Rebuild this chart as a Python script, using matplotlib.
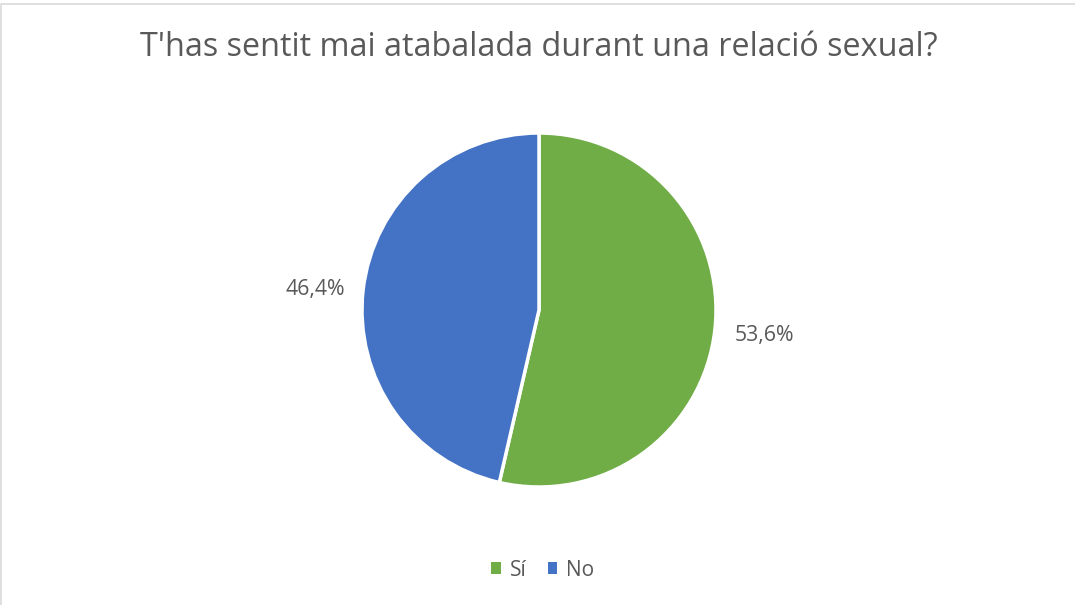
import matplotlib.pyplot as plt
from matplotlib.lines import Line2D

plt.rcParams['font.family'] = ['Open Sans', 'DejaVu Sans']

titol = "T'has sentit mai atabalada durant una relació sexual?"
categories = ['Sí', 'No']
valors = [53.6, 46.4]
colors = ['#70AD47', '#4472C4']
gris = '#595959'

W, H = 1075, 605
fig = plt.figure(figsize=(W / 100, H / 100), dpi=100)

# marc del gràfic (només es veuen la vora de dalt i l'esquerra)
fig.lines.append(Line2D([1 / W, 1 / W, 1], [0, 1 - 4 / H, 1 - 4 / H],
                        transform=fig.transFigure, color='#D9D9D9', linewidth=1.2))

fig.text(539 / W, 1 - 48 / H, titol, ha='center', va='center', fontsize=23.3, color=gris)

# pastís: centre (539, 310), radi 177 px
r = 177
ax = fig.add_axes([(539 - r) / W, 1 - (310 + r) / H, 2 * r / W, 2 * r / H])
wedges, _ = ax.pie(valors, colors=colors, startangle=90, counterclock=False,
                   wedgeprops=dict(edgecolor='white', linewidth=2.5))
ax.set_xlim(-1, 1)
ax.set_ylim(-1, 1)
ax.set_aspect('equal')

etiquetes = [f'{v:.1f}%'.replace('.', ',') for v in valors]
fig.text(764 / W, 1 - 336 / H, etiquetes[0], ha='center', va='center', fontsize=15.3, color=gris)
fig.text(315 / W, 1 - 290 / H, etiquetes[1], ha='center', va='center', fontsize=15.3, color=gris)

leg = fig.legend(wedges, categories, loc='center', bbox_to_anchor=(543 / W, 1 - 570 / H),
                 ncol=2, frameon=False, fontsize=15, handlelength=0.45, handleheight=0.45,
                 handletextpad=0.45, columnspacing=1.0, labelcolor=gris)
for h in leg.legend_handles:
    h.set_edgecolor('none')

fig.savefig('out.png', dpi=100, facecolor='white')
